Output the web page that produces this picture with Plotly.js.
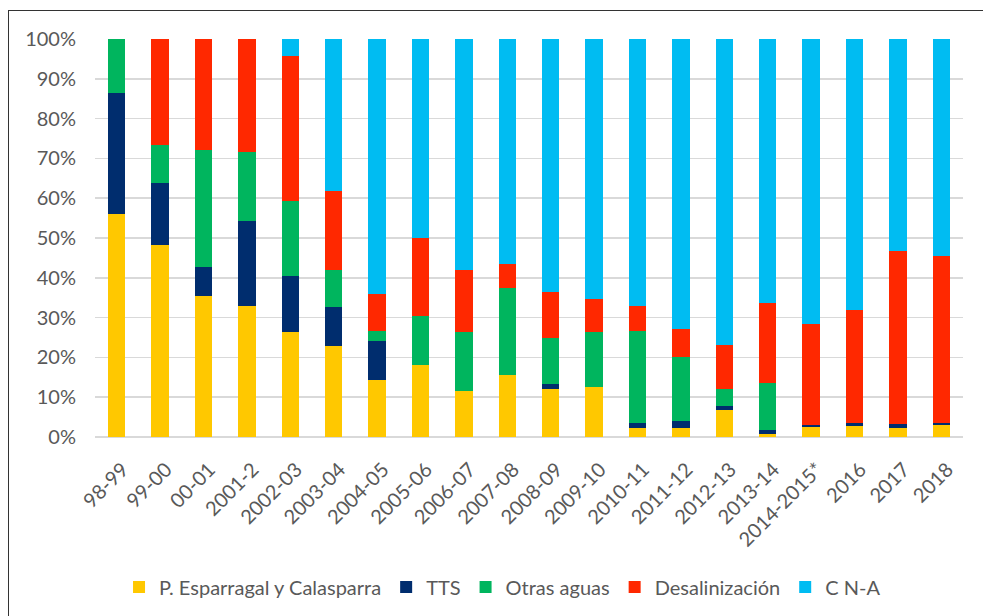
<!DOCTYPE html>
<html>
<head>
<meta charset="utf-8">
<script src="https://cdn.plot.ly/plotly-3.0.1.min.js"></script>
<style>
  html, body { margin: 0; padding: 0; background: #fff; overflow: hidden; }
  #chart { width: 983px; height: 616px; }
  #frame { position: absolute; left: 8px; top: 10px; width: 1000px; height: 700px; border: 1.5px solid #333; pointer-events: none; }
</style>
</head>
<body>
<div id="chart"></div>
<div id="frame"></div>
<script>
const categories = ["98-99","99-00","00-01","2001-2","2002-03","2003-04","2004-05","2005-06","2006-07","2007-08","2008-09","2009-10","2010-11","2011-12","2012-13","2013-14","2014-2015*","2016","2017","2018"];
const esparragal = [56.0,48.2,35.4,32.8,26.5,22.9,14.3,18.0,11.6,15.7,12.0,12.6,2.3,2.3,6.8,0.7,2.5,2.8,2.2,3.0];
const tts        = [30.5,15.5,7.4,21.4,14.0,9.8,9.7,0,0,0,1.2,0,1.1,1.6,1.0,1.1,0.6,0.6,1.0,0.5];
const otras      = [13.5,9.6,29.2,17.3,18.7,9.3,2.7,12.5,14.9,21.7,11.6,13.9,23.3,16.3,4.2,11.8,0,0,0,0];
const desal      = [0,26.7,28.0,28.5,36.5,19.8,9.2,19.4,15.5,6.1,11.7,8.2,6.3,6.9,11.2,20.1,25.2,28.5,43.6,42.1];
const cna        = [0,0,0,0,4.3,38.2,64.1,50.1,58.0,56.5,63.5,65.3,67.0,72.9,76.8,66.3,71.7,68.1,53.2,54.4];

const seriesNames = ["P. Esparragal y Calasparra","TTS","Otras aguas","Desalinización","C N-A"];
const seriesValues = [esparragal, tts, otras, desal, cna];
const seriesColors = ["#FFC800","#002D6E","#00B55E","#FF2800","#00BCF2"];

const traces = seriesNames.map((n, i) => ({
  type: 'bar',
  name: n,
  x: categories,
  y: seriesValues[i],
  marker: { color: seriesColors[i], line: { width: 0 } },
  hoverinfo: 'x+y+name'
}));

const fam = 'Lato, "Open Sans", sans-serif';
const fsize = 20;

const layout = {
  width: 983, height: 616,
  barmode: 'stack',
  barnorm: 'percent',
  bargap: 0.6,
  margin: { l: 95, r: 20, t: 39, b: 179, autoexpand: false },
  paper_bgcolor: '#fff',
  plot_bgcolor: '#fff',
  font: { family: fam, color: '#595959', size: fsize },
  showlegend: true,
  legend: {
    orientation: 'h', x: 0.4695, xanchor: 'center', yref: 'container', y: 0.047, yanchor: 'middle',
    font: { family: fam, size: fsize, color: '#595959' },
    traceorder: 'normal', itemwidth: 30, itemsizing: 'constant'
  },
  xaxis: {
    type: 'category',
    tickangle: -45,
    tickfont: { family: fam, size: fsize, color: '#595959' },
    ticklabelstandoff: 16,
    ticklabelshift: 6,
    showgrid: false, zeroline: false, showline: false, ticks: '',
    automargin: false
  },
  yaxis: {
    range: [0, 100],
    dtick: 10,
    ticksuffix: '%',
    tickfont: { family: fam, size: fsize, color: '#595959' },
    ticklabelstandoff: 18,
    showgrid: true, gridcolor: '#d9d9d9', gridwidth: 1.5,
    zeroline: true, zerolinecolor: '#d9d9d9', zerolinewidth: 1.5,
    showline: false, ticks: '', ticklen: 0,
    automargin: false
  }
};

Plotly.newPlot('chart', traces, layout, { staticPlot: true, displayModeBar: false });
</script>
</body>
</html>
